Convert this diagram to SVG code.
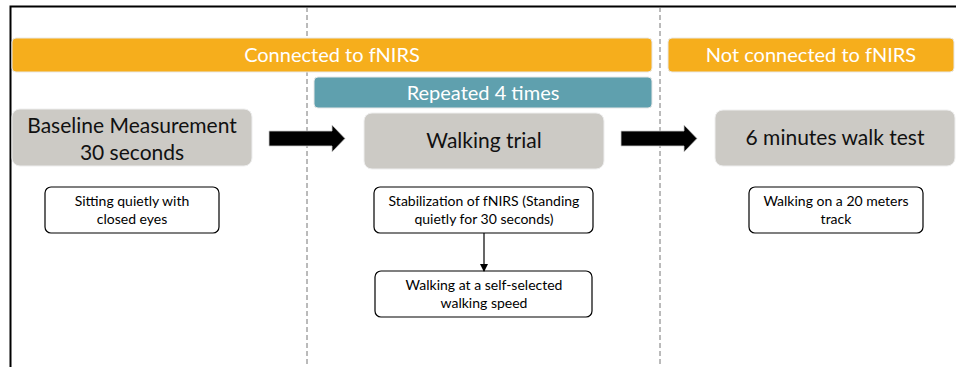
<svg xmlns="http://www.w3.org/2000/svg" width="956" height="367" viewBox="0 0 956 367">
<defs>
<style>
.bar{fill:#F6AE1C;stroke:#e8e8e8;stroke-width:1}
.teal{fill:#5FA0AE;stroke:#e8e8e8;stroke-width:1}
.gray{fill:#CCCAC5;stroke:#eeeeee;stroke-width:1}
.note{fill:#fff;stroke:#000;stroke-width:1.2}
.hdr{font-family:Lato,"Open Sans",sans-serif;font-size:20px;fill:#fff;text-anchor:middle}
.big{font-family:Lato,"Open Sans",sans-serif;font-size:21px;fill:#111;text-anchor:middle}
.sm{font-family:Lato,"Open Sans",sans-serif;font-size:14px;fill:#000;text-anchor:middle}
.dash{stroke:#777;stroke-width:1;stroke-dasharray:5,3}
</style>
<marker id="ah" markerWidth="8" markerHeight="8" refX="7" refY="4" orient="auto" markerUnits="userSpaceOnUse">
<path d="M0,0 L8,4 L0,8 Z" fill="#000"/>
</marker>
</defs>
<rect width="956" height="367" fill="#fff"/>
<g id="frame">
<path d="M10.5,367 V6.5 H956" fill="none" stroke="#000" stroke-width="2"/>
<line class="dash" x1="307" y1="7" x2="307" y2="367"/>
<line class="dash" x1="660" y1="7" x2="660" y2="367"/>
</g>
<g id="connected">
<rect class="bar" x="12" y="38" width="640" height="34" rx="4"/>
<text class="hdr" x="332" y="62">Connected to fNIRS</text>
</g>
<g id="not-connected">
<rect class="bar" x="668" y="38" width="286" height="34" rx="4"/>
<text class="hdr" x="811" y="62">Not connected to fNIRS</text>
</g>
<g id="repeated">
<rect class="teal" x="314" y="77" width="338" height="31" rx="4"/>
<text class="hdr" x="483" y="100">Repeated 4 times</text>
</g>
<g id="baseline">
<rect class="gray" x="12" y="109" width="240" height="57" rx="8"/>
<text class="big" x="132" y="133">Baseline Measurement</text>
<text class="big" x="132" y="160">30 seconds</text>
</g>
<g id="walking-trial">
<rect class="gray" x="364" y="113" width="240" height="56" rx="8"/>
<text class="big" x="484" y="148">Walking trial</text>
</g>
<g id="six-minutes">
<rect class="gray" x="715" y="110" width="240" height="56" rx="8"/>
<text class="big" x="835" y="145">6 minutes walk test</text>
</g>
<g id="sitting">
<rect class="note" x="45" y="187" width="174" height="46" rx="6"/>
<text class="sm" x="132" y="206">Sitting quietly with</text>
<text class="sm" x="132" y="224">closed eyes</text>
</g>
<g id="stabilization">
<rect class="note" x="374" y="187" width="219" height="46" rx="6"/>
<text class="sm" x="484" y="206">Stabilization of fNIRS (Standing</text>
<text class="sm" x="484" y="224">quietly for 30 seconds)</text>
</g>
<g id="self-selected">
<rect class="note" x="375" y="271" width="217" height="46" rx="6"/>
<text class="sm" x="484" y="290">Walking at a self-selected</text>
<text class="sm" x="484" y="308">walking speed</text>
</g>
<g id="track">
<rect class="note" x="749" y="187" width="174" height="46" rx="6"/>
<text class="sm" x="836" y="206">Walking on a 20 meters</text>
<text class="sm" x="836" y="224">track</text>
</g>
<g id="connectors">
<path d="M269,131 H332 V125 L345,138.5 L332,152 V146 H269 Z" fill="#000" stroke="#ccc" stroke-width="0.8"/>
<path d="M621,131 H684 V125 L697,138.5 L684,152 V146 H621 Z" fill="#000" stroke="#ccc" stroke-width="0.8"/>
<line x1="484" y1="233" x2="484" y2="271" stroke="#000" stroke-width="1.2" marker-end="url(#ah)"/>
</g>
</svg>
